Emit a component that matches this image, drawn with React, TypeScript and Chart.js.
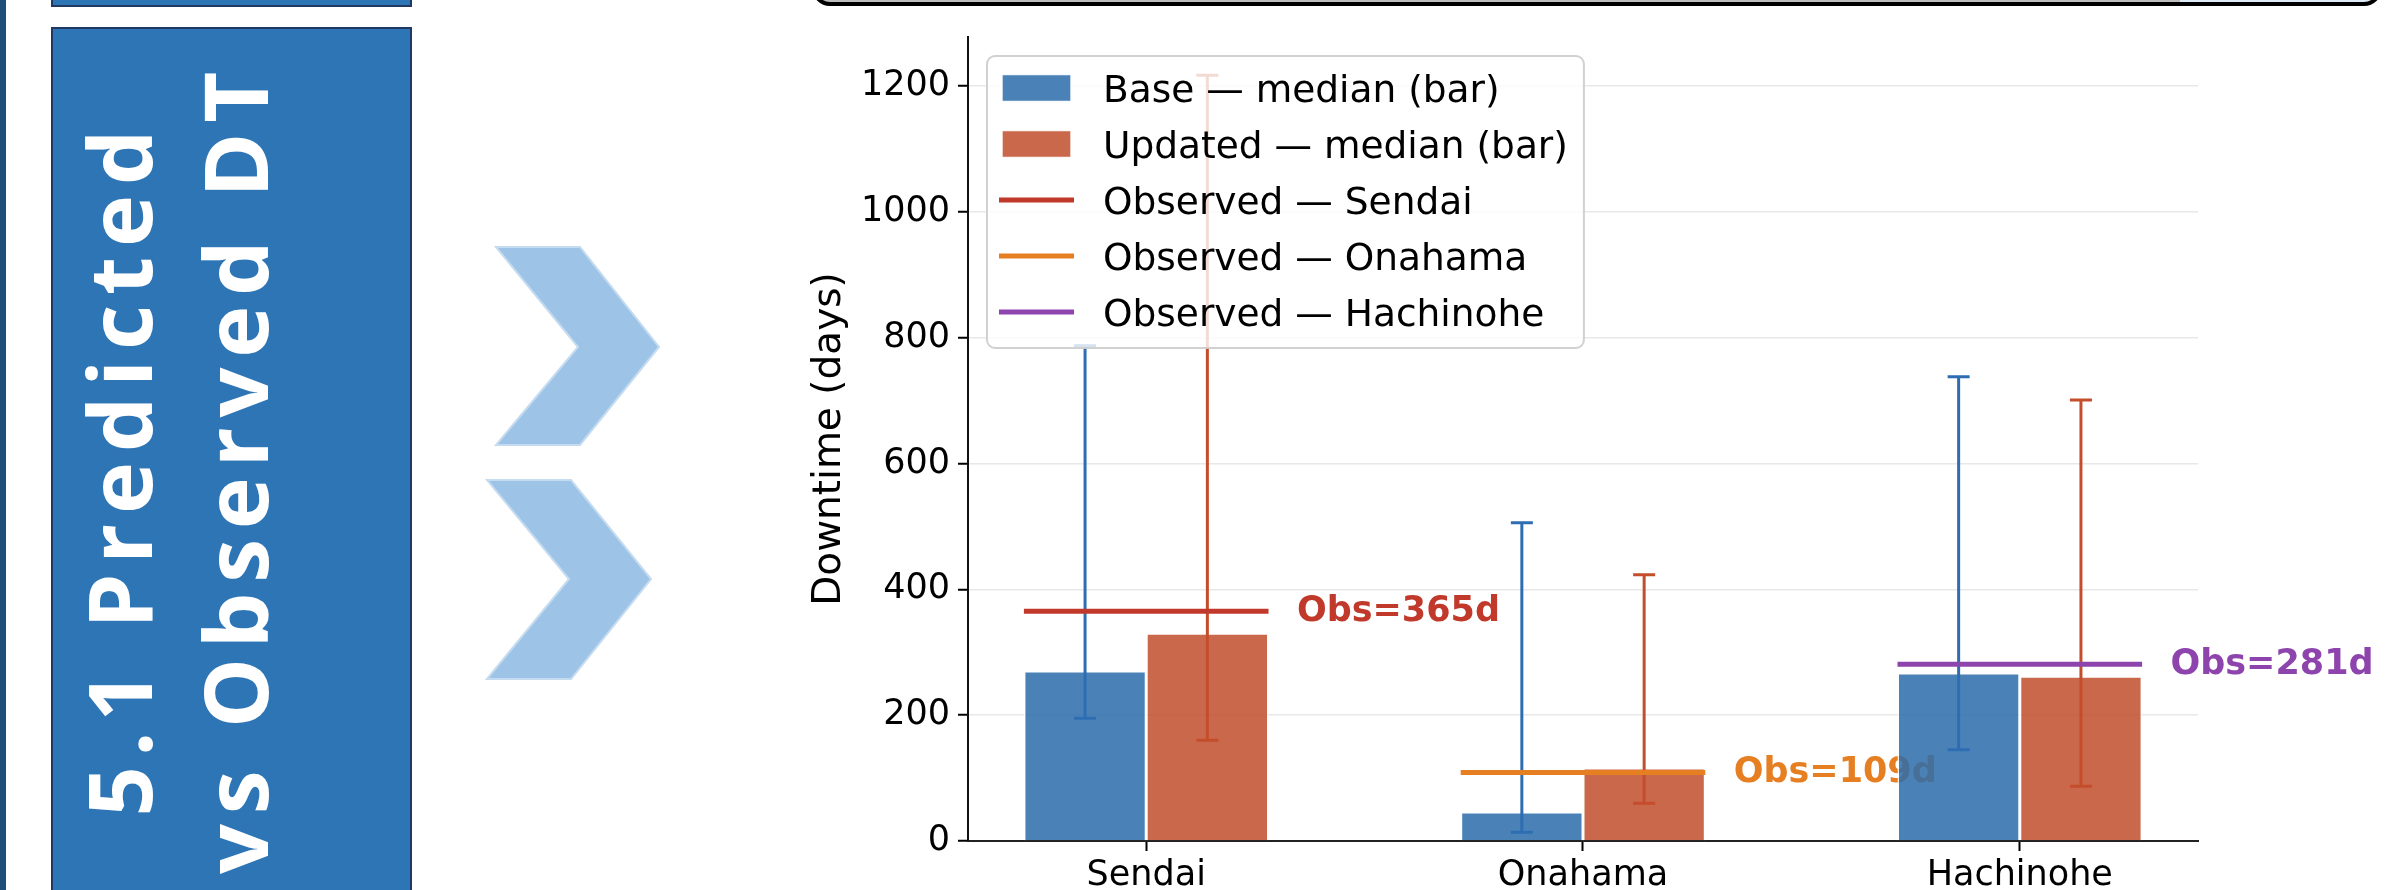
import React, { useEffect, useRef } from 'react';
import { Chart, registerables } from 'chart.js';

Chart.register(...registerables);

// ---------- data ----------
const categories = ['Sendai', 'Onahama', 'Hachinohe'];
const baseMedian = [270, 46, 267];
const baseLow = [195, 14, 145];
const baseHigh = [787, 506, 738];
const updatedMedian = [330, 116, 262];
const updatedLow = [160, 60, 87];
const updatedHigh = [1217, 423, 701];
const observed = [365, 109, 281];
const yTicks = [0, 200, 400, 600, 800, 1000, 1200];

const seriesLabels = ['Base — median (bar)', 'Updated — median (bar)'];
const obsColors = ['#C0392B', '#E67E22', '#8E44AD'];
const baseFill = 'rgba(42,108,172,0.85)';
const baseErr = '#2E6DB2';
const updFill = 'rgba(193,78,44,0.85)';
const updErr = '#C44E2C';

const BAR_W = 0.28;
const FONT = '"DejaVu Sans", sans-serif';

export default function App() {
  const canvasRef = useRef<HTMLCanvasElement | null>(null);

  useEffect(() => {
    const canvas = canvasRef.current;
    if (!canvas) return;
    Chart.defaults.font.family = FONT;
    Chart.defaults.color = '#000';

    const span = categories.length - 1 + 2 * BAR_W;
    const xMin = -BAR_W - 0.05 * span;
    const xMax = categories.length - 1 + BAR_W + 0.05 * span;
    const yMax = Math.max(...baseHigh, ...updatedHigh) * 1.05;

    const errSpecs: any = {
      0: { low: baseLow, high: baseHigh, color: baseErr },
      1: { low: updatedLow, high: updatedHigh, color: updErr },
    };

    const errorBarPlugin = {
      id: 'errbars',
      afterDatasetDraw(chart: any, args: any) {
        const spec = errSpecs[args.index];
        if (!spec) return;
        const ys = chart.scales.y;
        const ctx = chart.ctx;
        ctx.save();
        ctx.strokeStyle = spec.color;
        ctx.lineWidth = 3;
        args.meta.data.forEach((bar: any, j: number) => {
          const x = bar.x;
          const yl = ys.getPixelForValue(spec.low[j]);
          const yh = ys.getPixelForValue(spec.high[j]);
          ctx.beginPath();
          ctx.moveTo(x, yl);
          ctx.lineTo(x, yh);
          ctx.moveTo(x - 11, yl);
          ctx.lineTo(x + 11, yl);
          ctx.moveTo(x - 11, yh);
          ctx.lineTo(x + 11, yh);
          ctx.stroke();
        });
        ctx.restore();
      },
    };

    const obsLabelPlugin = {
      id: 'obsLabels',
      beforeDatasetsDraw(chart: any) {
        const xs = chart.scales.x;
        const ys = chart.scales.y;
        const ctx = chart.ctx;
        ctx.save();
        ctx.font = `bold 35px ${FONT}`;
        ctx.textAlign = 'left';
        ctx.textBaseline = 'alphabetic';
        categories.forEach((_, i) => {
          ctx.fillStyle = obsColors[i];
          const x = xs.getPixelForValue(i + BAR_W + 0.065);
          const y = ys.getPixelForValue(observed[i]);
          ctx.fillText(`Obs=${observed[i]}d`, x, y + 10);
        });
        ctx.restore();
      },
    };

    const legendPlugin = {
      id: 'boxLegend',
      afterDraw(chart: any) {
        const ctx = chart.ctx;
        const area = chart.chartArea;
        const fs = 37.5;
        ctx.save();
        ctx.font = `${fs}px ${FONT}`;
        const items = chart.data.datasets.map((ds: any) => ({
          label: ds.label,
          bar: ds.type === 'bar',
          color: ds.type === 'bar' ? ds.backgroundColor : ds.borderColor,
        }));
        const maxW = Math.max(...items.map((it: any) => ctx.measureText(it.label).width));
        const left = area.left + 19;
        const top = area.top + 19;
        const rowH = 56;
        const w = 116 + maxW + 16;
        const h = 32 + (items.length - 1) * rowH + 36;
        ctx.beginPath();
        ctx.roundRect(left, top, w, h, 8);
        ctx.fillStyle = 'rgba(255,255,255,0.8)';
        ctx.fill();
        ctx.lineWidth = 2;
        ctx.strokeStyle = 'rgba(204,204,204,0.9)';
        ctx.stroke();
        items.forEach((it: any, k: number) => {
          const cy = top + 32 + k * rowH;
          if (it.bar) {
            ctx.fillStyle = it.color;
            ctx.fillRect(left + 15, cy - 13.5, 69, 27);
            ctx.strokeStyle = 'rgba(255,255,255,0.9)';
            ctx.lineWidth = 1.5;
            ctx.strokeRect(left + 15, cy - 13.5, 69, 27);
          } else {
            ctx.strokeStyle = it.color;
            ctx.lineWidth = 5;
            ctx.beginPath();
            ctx.moveTo(left + 12, cy);
            ctx.lineTo(left + 87, cy);
            ctx.stroke();
          }
          ctx.fillStyle = '#000';
          ctx.textAlign = 'left';
          ctx.textBaseline = 'alphabetic';
          ctx.fillText(it.label, left + 116, cy + 13.5);
        });
        ctx.restore();
      },
    };

    const chart = new Chart(canvas, {
      type: 'bar',
      data: {
        datasets: [
          {
            type: 'bar',
            label: seriesLabels[0],
            data: categories.map((_, i) => ({ x: i, y: baseMedian[i] })),
            backgroundColor: baseFill,
            borderColor: 'rgba(255,255,255,0.9)',
            borderWidth: 1.5,
            categoryPercentage: 2 * BAR_W,
            barPercentage: 1,
            order: 1,
          },
          {
            type: 'bar',
            label: seriesLabels[1],
            data: categories.map((_, i) => ({ x: i, y: updatedMedian[i] })),
            backgroundColor: updFill,
            borderColor: 'rgba(255,255,255,0.9)',
            borderWidth: 1.5,
            categoryPercentage: 2 * BAR_W,
            barPercentage: 1,
            order: 1,
          },
          ...categories.map((c, i) => ({
            type: 'line',
            label: `Observed — ${c}`,
            data: [
              { x: i - BAR_W, y: observed[i] },
              { x: i + BAR_W, y: observed[i] },
            ],
            borderColor: obsColors[i],
            backgroundColor: obsColors[i],
            borderWidth: 5,
            borderCapStyle: 'butt',
            pointRadius: 0,
            order: 0,
          })),
        ] as any,
      },
      options: {
        responsive: false,
        animation: false,
        devicePixelRatio: 1,
        layout: { padding: { left: 0, right: 204, top: 37, bottom: 0 } },
        plugins: {
          legend: { display: false },
          tooltip: { enabled: false },
        },
        scales: {
          x: {
            type: 'linear',
            min: xMin,
            max: xMax,
            offset: false,
            afterBuildTicks: (axis: any) => {
              axis.ticks = categories.map((_, i) => ({ value: i }));
            },
            afterFit: (s: any) => {
              s.height = 49;
            },
            grid: {
              offset: false,
              drawOnChartArea: false,
              drawTicks: true,
              tickLength: 10,
              tickWidth: 2,
              tickColor: '#000',
            },
            border: { display: true, color: '#222', width: 2 },
            ticks: {
              autoSkip: false,
              maxRotation: 0,
              padding: 4,
              font: { size: 35 },
              color: '#000',
              callback: (v: any) => categories[v] ?? '',
            },
          },
          y: {
            type: 'linear',
            min: 0,
            max: yMax,
            afterBuildTicks: (axis: any) => {
              axis.ticks = yTicks.map((v) => ({ value: v }));
            },
            afterFit: (s: any) => {
              s.width = 188;
            },
            grid: {
              color: '#e8e8e8',
              lineWidth: 1.5,
              drawTicks: true,
              tickLength: 10,
              tickWidth: 2,
              tickColor: '#000',
            },
            border: { display: true, color: '#111', width: 2 },
            ticks: {
              padding: 8,
              font: { size: 35 },
              color: '#000',
              callback: (v: any) => String(v),
            },
            title: {
              display: true,
              text: 'Downtime (days)',
              font: { size: 39 },
              color: '#000',
              padding: { top: 26.6, bottom: 0 },
            },
          },
        },
      } as any,
      plugins: [obsLabelPlugin, errorBarPlugin, legendPlugin],
    });

    return () => chart.destroy();
  }, []);

  const lineStyle: React.CSSProperties = {
    display: 'block',
    whiteSpace: 'nowrap',
    paddingLeft: '9.8px',
  };

  return (
    <div
      style={{
        position: 'absolute',
        left: 0,
        top: 0,
        width: 2402,
        height: 890,
        overflow: 'hidden',
        background: '#fff',
      }}
    >
      {/* left stripe */}
      <div style={{ position: 'absolute', left: 0, top: 0, width: 6, height: 890, background: '#1F4E79' }} />
      {/* top small blue box */}
      <div
        style={{
          position: 'absolute',
          left: 51,
          top: -40,
          width: 361,
          height: 47,
          boxSizing: 'border-box',
          background: '#2E75B6',
          border: '2px solid #1F3864',
        }}
      />
      {/* main blue box */}
      <div
        style={{
          position: 'absolute',
          left: 51,
          top: 27,
          width: 361,
          height: 900,
          boxSizing: 'border-box',
          background: '#2E75B6',
          border: '2px solid #1F3864',
        }}
      />
      {/* rotated title */}
      <div style={{ position: 'absolute', left: 176, top: 473, width: 0, height: 0 }}>
        <div
          style={{
            position: 'absolute',
            left: -500,
            top: -116,
            width: 1000,
            height: 232,
            transform: 'rotate(-90deg)',
            color: '#fff',
            fontFamily: '"Open Sans", sans-serif',
            fontWeight: 700,
            fontSize: 88,
            lineHeight: '116px',
            letterSpacing: '9.8px',
            textAlign: 'center',
          }}
        >
          <span style={lineStyle}>5.1 Predicted</span>
          <span style={lineStyle}>vs Observed DT</span>
        </div>
      </div>
      {/* chevrons */}
      <svg
        width={2402}
        height={890}
        style={{ position: 'absolute', left: 0, top: 0 }}
      >
        <polygon
          points="496,247 580,247 659,347 580,445 496,445 578,347"
          fill="#9DC3E6"
          stroke="#C5DCF0"
          strokeWidth={2}
        />
        <polygon
          points="487,480 571,480 651,579 571,679 487,679 569,579"
          fill="#9DC3E6"
          stroke="#C5DCF0"
          strokeWidth={2}
        />
      </svg>
      {/* top rounded panel (cut off) */}
      <div
        style={{
          position: 'absolute',
          left: 812,
          top: -42,
          width: 1570,
          height: 48,
          boxSizing: 'border-box',
          border: '4px solid #000',
          borderRadius: 18,
          background: 'linear-gradient(to right, #bdbdbd 0%, #bdbdbd 87.3%, #dcebf7 87.3%, #dcebf7 100%)',
        }}
      />
      <canvas
        ref={canvasRef}
        width={1622}
        height={890}
        style={{ position: 'absolute', left: 780, top: 0, width: 1622, height: 890 }}
      />
    </div>
  );
}
